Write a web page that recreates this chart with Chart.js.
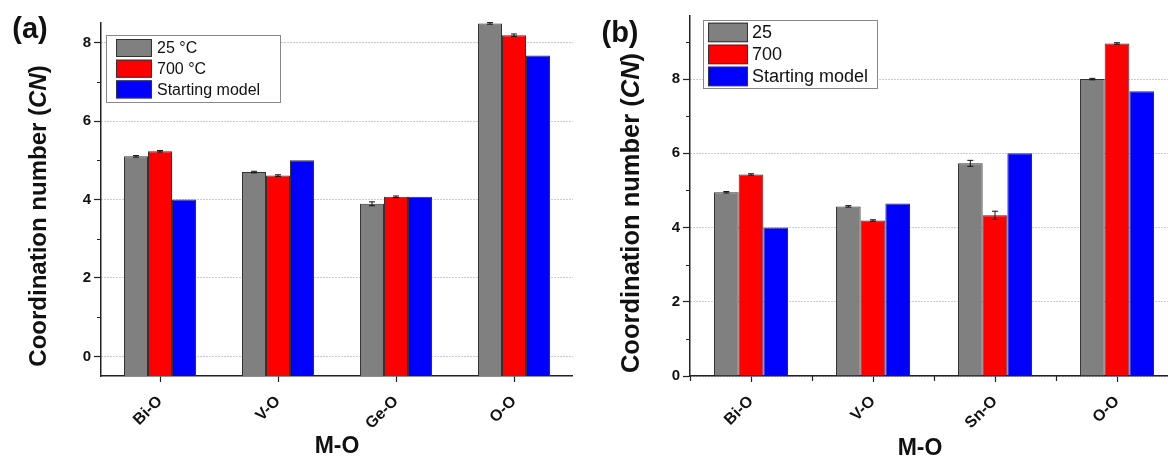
<!DOCTYPE html>
<html>
<head>
<meta charset="utf-8">
<script src="https://cdn.jsdelivr.net/npm/chart.js@4.4.0/dist/chart.umd.min.js"></script>
<style>
  html, body { margin: 0; padding: 0; background: #fff; }
  body { position: relative; width: 1168px; height: 456px; overflow: hidden; font-family: 'Liberation Sans', Arial, sans-serif; color: #111; }
  canvas { position: absolute; top: 0; }
  #chartA { left: 0; }
  #chartB { left: 584px; }
  .lbl { position: absolute; font-weight: bold; white-space: nowrap; line-height: 1; transform: translate(-50%, -50%); }
  .ytitle { transform: translate(-50%, -50%) rotate(-90deg); }
</style>
</head>
<body>
<canvas id="chartA" width="573" height="456"></canvas>
<canvas id="chartB" width="594" height="456"></canvas>

<div class="lbl" style="left:30px; top:28px; font-size:29px">(a)</div>
<div class="lbl" style="left:620px; top:32px; font-size:29px">(b)</div>
<div class="lbl ytitle" style="left:38px; top:216px; font-size:24px">Coordination number (<i>CN</i>)</div>
<div class="lbl ytitle" style="left:631px; top:213px; font-size:25.5px">Coordination number (<i>CN</i>)</div>
<div class="lbl" style="left:337px; top:445px; font-size:23px">M-O</div>
<div class="lbl" style="left:920px; top:447px; font-size:23px">M-O</div>

<script>
// panel (a)
const categoriesA = ['Bi-O', 'V-O', 'Ge-O', 'O-O'];
const cn25A = [5.10, 4.70, 3.89, 8.49];
const cn700A = [5.23, 4.61, 4.07, 8.19];
const startA = [4.00, 5.00, 4.07, 7.67];
const err25A = [0.02, 0.02, 0.05, 0.02];
const err700A = [0.02, 0.02, 0.02, 0.03];
const yMajorA = [0, 2, 4, 6, 8];
const yMinorA = [1, 3, 5, 7];

// panel (b)
const categoriesB = ['Bi-O', 'V-O', 'Sn-O', 'O-O'];
const cn25B = [4.95, 4.57, 5.73, 8.00];
const cn700B = [5.43, 4.19, 4.33, 8.96];
const startB = [4.00, 4.65, 6.00, 7.67];
const err25B = [0.02, 0.02, 0.08, 0.02];
const err700B = [0.02, 0.02, 0.11, 0.02];
const yMajorB = [0, 2, 4, 6, 8];
const yMinorB = [1, 3, 5, 7, 9];

const FONT = "'Liberation Sans', Arial, sans-serif";
const INK = '#222';

// error bars on top of the bars
const errorBars = {
    id: 'errorBars',
    afterDatasetsDraw(chart) {
        const { ctx, scales: { y } } = chart;
        ctx.save();
        ctx.strokeStyle = '#111';
        ctx.lineWidth = 1;
        chart.data.datasets.forEach((ds, di) => {
            if (!ds.errors) return;
            chart.getDatasetMeta(di).data.forEach((bar, i) => {
                const e = ds.errors[i];
                if (!e) return;
                const top = y.getPixelForValue(ds.data[i] + e);
                const bot = y.getPixelForValue(ds.data[i] - e);
                ctx.beginPath();
                ctx.moveTo(bar.x, top); ctx.lineTo(bar.x, bot);
                ctx.moveTo(bar.x - 3, top); ctx.lineTo(bar.x + 3, top);
                ctx.moveTo(bar.x - 3, bot); ctx.lineTo(bar.x + 3, bot);
                ctx.stroke();
            });
        });
        ctx.restore();
    }
};

// framed legend inside the plot area (Origin style)
const boxLegend = {
    id: 'boxLegend',
    afterDatasetsDraw(chart, args, o) {
        const { ctx, chartArea } = chart;
        const x0 = Math.round(chartArea.left + o.dx), y0 = Math.round(chartArea.top + o.dy);
        ctx.save();
        ctx.fillStyle = '#fff';
        ctx.fillRect(x0, y0, o.w, o.h);
        ctx.strokeStyle = '#888';
        ctx.lineWidth = 1;
        ctx.strokeRect(x0 + 0.5, y0 + 0.5, o.w, o.h);
        ctx.font = o.fontSize + 'px ' + FONT;
        ctx.textBaseline = 'middle';
        chart.data.datasets.forEach((ds, i) => {
            const ry = y0 + o.rowTop + i * o.rowPitch;
            ctx.fillStyle = ds.backgroundColor;
            ctx.fillRect(x0 + o.swX, ry, o.swW, o.swH);
            ctx.strokeStyle = '#333';
            ctx.strokeRect(x0 + o.swX + 0.5, ry + 0.5, o.swW - 1, o.swH - 1);
            ctx.fillStyle = '#111';
            ctx.fillText(ds.label, x0 + o.swX + o.swW + o.gap, ry + o.swH / 2 + 1);
        });
        ctx.restore();
    }
};

// minor ticks: odd values on y, category boundaries on x (panel b)
const minorTicks = {
    id: 'minorTicks',
    afterDraw(chart, args, o) {
        const { ctx, chartArea, scales: { x, y } } = chart;
        ctx.save();
        ctx.strokeStyle = INK;
        ctx.lineWidth = 1.2;
        ctx.beginPath();
        (o.yMinor || []).forEach(v => {
            const py = Math.round(y.getPixelForValue(v)) + 0.5;
            ctx.moveTo(chartArea.left - 4, py);
            ctx.lineTo(chartArea.left, py);
        });
        if (o.xBetween) {
            const step = x.getPixelForValue(1) - x.getPixelForValue(0);
            for (let i = 0; i <= chart.data.labels.length; i++) {
                const px = Math.round(x.getPixelForValue(i) - step / 2) + 0.5;
                ctx.moveTo(px, chartArea.bottom);
                ctx.lineTo(px, chartArea.bottom + 5);
            }
        }
        ctx.stroke();
        ctx.restore();
    }
};

function makePanel(id, cfg) {
    const bar = (label, data, color, errors) => ({
        label, data, errors,
        backgroundColor: color,
        borderColor: '#333',
        borderWidth: 1,
        base: cfg.yMin,
        categoryPercentage: cfg.groupFrac,
        barPercentage: 1.0,
    });
    return new Chart(document.getElementById(id), {
        type: 'bar',
        data: {
            labels: cfg.labels,
            datasets: [
                bar(cfg.names[0], cfg.s1, '#808080', cfg.e1),
                bar(cfg.names[1], cfg.s2, '#ff0000', cfg.e2),
                bar(cfg.names[2], cfg.s3, '#0000ff', null),
            ]
        },
        options: {
            responsive: false,
            animation: false,
            devicePixelRatio: 1,
            layout: { padding: { top: cfg.padTop, left: 0, right: 0, bottom: 0 } },
            plugins: {
                legend: { display: false },
                tooltip: { enabled: false },
                boxLegend: cfg.legend,
                minorTicks: { yMinor: cfg.yMinor, xBetween: cfg.xBetween },
            },
            scales: {
                x: {
                    offset: true,
                    grid: { offset: false, drawOnChartArea: false, tickLength: 6, tickColor: INK, tickWidth: 1.2 },
                    border: { color: INK, width: 1.5 },
                    ticks: {
                        maxRotation: 45, minRotation: 45, padding: 10, color: '#111',
                        font: { family: FONT, weight: 'bold', size: 16 },
                    },
                    afterFit: (s) => { s.height = 80; s.paddingLeft = 0; s.paddingRight = 0; },
                },
                y: {
                    min: cfg.yMin,
                    max: cfg.yMax,
                    afterBuildTicks: (axis) => { axis.ticks = cfg.yMajor.map(v => ({ value: v })); },
                    grid: { color: '#8c8cff', lineWidth: 1, tickColor: INK, tickWidth: 1.2, tickLength: 7, tickBorderDash: [] },
                    border: { color: INK, width: 1.5, dash: [1, 2] },
                    ticks: {
                        padding: 3, color: '#111',
                        font: { family: FONT, weight: 'bold', size: 15 },
                        callback: (v) => v,
                    },
                    afterFit: (s) => { s.width = cfg.yWidth; s.paddingTop = 0; s.paddingBottom = 0; },
                }
            }
        },
        plugins: [errorBars, boxLegend, minorTicks]
    });
}

const chartA = makePanel('chartA', {
    labels: categoriesA,
    names: ['25 °C', '700 °C', 'Starting model'],
    s1: cn25A, s2: cn700A, s3: startA, e1: err25A, e2: err700A,
    yMin: -0.5, yMax: 8.5, yMajor: yMajorA, yMinor: yMinorA,
    yWidth: 101, padTop: 23, groupFrac: 0.61, xBetween: false,
    legend: { dx: 5, dy: 12, w: 174, h: 67, swX: 10, swW: 36, swH: 18, rowTop: 4, rowPitch: 20.7, gap: 5, fontSize: 16 },
});

const chartB = makePanel('chartB', {
    labels: categoriesB,
    names: ['25', '700', 'Starting model'],
    s1: cn25B, s2: cn700B, s3: startB, e1: err25B, e2: err700B,
    yMin: 0, yMax: 9.7, yMajor: yMajorB, yMinor: yMinorB,
    yWidth: 106, padTop: 16, groupFrac: 0.607, xBetween: true,
    legend: { dx: 13, dy: 4, w: 174, h: 68, swX: 5, swW: 40, swH: 19.5, rowTop: 2.7, rowPitch: 22, gap: 4, fontSize: 18 },
});
</script>
</body>
</html>
